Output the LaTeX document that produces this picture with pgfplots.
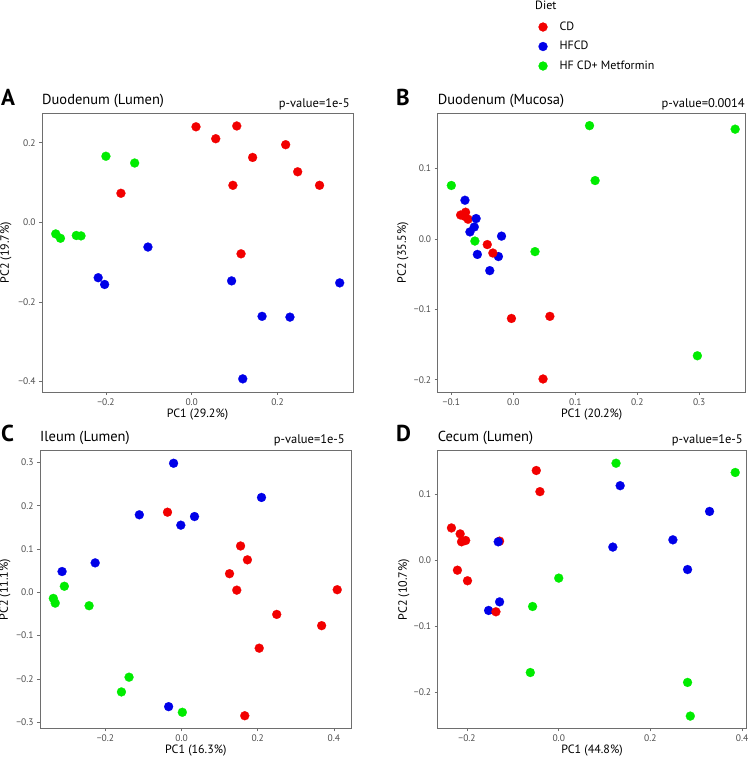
\documentclass[border=0pt]{standalone}
\usepackage{fontspec}
\setmainfont{PT Sans}
\usepackage{pgfplots}
\pgfplotsset{compat=1.18}
\definecolor{cdred}{RGB}{242,0,0}
\definecolor{hfblue}{RGB}{0,0,232}
\definecolor{metgreen}{RGB}{0,236,0}
\definecolor{tickgray}{RGB}{77,77,77}
\definecolor{boxgray}{RGB}{110,110,110}
\pgfplotsset{
  pca/.style={
    scale only axis, anchor=south west,
    tick pos=left, tick align=outside, major tick length=3pt,
    every tick/.style={boxgray, line width=0.6pt},
    axis line style={boxgray, line width=0.7pt},
    ticklabel style={font=\fontsize{9.5}{10}\selectfont, text=tickgray},
  },
  cd/.style={only marks, mark=*, mark size=4.5pt, color=cdred, mark options={fill=cdred, draw=cdred, line width=0.2pt}},
  hf/.style={only marks, mark=*, mark size=4.5pt, color=hfblue, mark options={fill=hfblue, draw=hfblue, line width=0.2pt}},
  mt/.style={only marks, mark=*, mark size=4.5pt, color=metgreen, mark options={fill=metgreen, draw=metgreen, line width=0.2pt}},
}
\begin{document}
\begin{tikzpicture}
\path[use as bounding box] (0pt,0pt) rectangle (750pt,758pt);

% ---------------- A ----------------
\begin{axis}[pca, at={(42pt,366pt)}, width=311pt, height=279pt,
  xmin=-0.349, xmax=0.376, ymin=-0.426, ymax=0.2746,
  xtick={-0.2,0,0.2}, xticklabels={−0.2,0.0,0.2},
  ytick={-0.4,-0.2,0,0.2}, yticklabels={−0.4,−0.2,0.0,0.2},
  legend style={draw=none, fill=none, at={(1.5965,1.3315)}, anchor=north west,
    inner sep=0pt, outer sep=0pt, font=\fontsize{12}{12}\selectfont, row sep=6.5pt,
    nodes={inner sep=1pt, text height=8.5pt, text depth=2.5pt},
    /tikz/every odd column/.style={column sep=11pt}},
  legend cell align=left]
\addplot[cd] coordinates {(0.010,0.240)(0.056,0.210)(0.105,0.242)(0.142,0.163)(0.219,0.195)(0.247,0.127)(0.096,0.093)(0.298,0.093)(-0.165,0.073)(0.115,-0.079)};
\addlegendentry{CD}
\addplot[hf] coordinates {(-0.102,-0.062)(-0.218,-0.139)(-0.203,-0.156)(0.093,-0.147)(0.345,-0.152)(0.164,-0.236)(0.229,-0.238)(0.119,-0.393)};
\addlegendentry{HFCD}
\addplot[mt] coordinates {(-0.200,0.166)(-0.133,0.149)(-0.317,-0.029)(-0.306,-0.040)(-0.269,-0.033)(-0.258,-0.034)};
\addlegendentry{HF CD+ Metformin}
\end{axis}

% ---------------- B ----------------
\begin{axis}[pca, at={(437.7pt,366pt)}, width=308pt, height=279pt,
  xmin=-0.122, xmax=0.375, ymin=-0.2175, ymax=0.179,
  xtick={-0.1,0,0.1,0.2,0.3}, xticklabels={−0.1,0.0,0.1,0.2,0.3},
  ytick={-0.2,-0.1,0,0.1}, yticklabels={−0.2,−0.1,0.0,0.1}]
\addplot[cd] coordinates {(-0.085,0.034)(-0.077,0.038)(-0.078,0.032)(-0.073,0.028)(-0.042,-0.008)(-0.003,-0.113)(0.059,-0.110)(0.048,-0.199)};
\addplot[hf] coordinates {(-0.078,0.055)(-0.060,0.029)(-0.063,0.017)(-0.070,0.010)(-0.019,0.004)(-0.058,-0.022)(-0.024,-0.025)(-0.038,-0.045)};
\addplot[cd] coordinates {(-0.033,-0.020)};
\addplot[mt] coordinates {(0.123,0.161)(0.358,0.156)(0.132,0.083)(-0.100,0.076)(-0.062,-0.003)(0.035,-0.018)(0.297,-0.166)};
\end{axis}

% ---------------- C ----------------
\begin{axis}[pca, at={(40pt,29.7pt)}, width=311.7pt, height=277.6pt,
  xmin=-0.372, xmax=0.447, ymin=-0.314, ymax=0.327,
  xtick={-0.2,0,0.2,0.4}, xticklabels={−0.2,0.0,0.2,0.4},
  ytick={-0.3,-0.2,-0.1,0,0.1,0.2,0.3}, yticklabels={−0.3,−0.2,−0.1,0.0,0.1,0.2,0.3}]
\addplot[hf] coordinates {(-0.021,0.298)(0.210,0.219)(-0.111,0.179)(0.034,0.175)(-0.002,0.155)(-0.227,0.068)(-0.314,0.048)(-0.034,-0.264)};
\addplot[cd] coordinates {(-0.037,0.185)(0.155,0.107)(0.173,0.075)(0.126,0.043)(0.145,0.005)(0.409,0.006)(0.250,-0.051)(0.368,-0.077)(0.204,-0.129)(0.166,-0.285)};
\addplot[mt] coordinates {(-0.308,0.014)(-0.337,-0.014)(-0.332,-0.025)(-0.243,-0.031)(-0.138,-0.196)(-0.158,-0.230)(0.002,-0.277)};
\end{axis}

% ---------------- D ----------------
\begin{axis}[pca, at={(437.7pt,29.7pt)}, width=309pt, height=277.6pt,
  xmin=-0.264, xmax=0.410, ymin=-0.2545, ymax=0.166,
  xtick={-0.2,0,0.2,0.4}, xticklabels={−0.2,0.0,0.2,0.4},
  ytick={-0.2,-0.1,0,0.1}, yticklabels={−0.2,−0.1,0.0,0.1}]
\addplot[cd] coordinates {(-0.049,0.136)(-0.041,0.104)(-0.234,0.049)(-0.215,0.040)(-0.212,0.028)(-0.203,0.030)(-0.129,0.029)(-0.221,-0.015)(-0.199,-0.031)};
\addplot[hf] coordinates {(0.134,0.113)(0.329,0.074)(0.118,0.020)(0.249,0.031)(0.281,-0.014)(-0.132,0.028)(-0.129,-0.063)(-0.153,-0.076)};
\addplot[cd] coordinates {(-0.137,-0.078)};
\addplot[mt] coordinates {(0.125,0.147)(0.385,0.133)(0.000,-0.027)(-0.057,-0.070)(-0.062,-0.170)(0.281,-0.185)(0.287,-0.236)};
\end{axis}

% ---------------- texts ----------------
\node[anchor=base west, inner sep=0pt, font=\fontsize{12}{12}\selectfont] at (535pt,748pt) {Diet};

\node[anchor=base west, inner sep=0pt, font=\bfseries\fontsize{23}{23}\selectfont] at (1pt,652pt) {A};
\node[anchor=base west, inner sep=0pt, font=\fontsize{14.5}{14.5}\selectfont] at (42pt,653pt) {Duodenum (Lumen)};
\node[anchor=base east, inner sep=0pt, font=\fontsize{12.5}{12.5}\selectfont] at (350pt,650pt) {p-value=1e-5};
\node[anchor=center, inner sep=0pt, font=\fontsize{12}{12}\selectfont] at (197.5pt,343pt) {PC1 (29.2\%)};
\node[anchor=center, inner sep=0pt, rotate=90, font=\fontsize{12}{12}\selectfont] at (6pt,505.5pt) {PC2 (19.7\%)};

\node[anchor=base west, inner sep=0pt, font=\bfseries\fontsize{23}{23}\selectfont] at (396pt,652pt) {B};
\node[anchor=base west, inner sep=0pt, font=\fontsize{14.5}{14.5}\selectfont] at (437.7pt,653pt) {Duodenum (Mucosa)};
\node[anchor=base east, inner sep=0pt, font=\fontsize{12.5}{12.5}\selectfont] at (745pt,650pt) {p-value=0.0014};
\node[anchor=center, inner sep=0pt, font=\fontsize{12}{12}\selectfont] at (591.7pt,343pt) {PC1 (20.2\%)};
\node[anchor=center, inner sep=0pt, rotate=90, font=\fontsize{12}{12}\selectfont] at (403pt,505.5pt) {PC2 (35.5\%)};

\node[anchor=base west, inner sep=0pt, font=\bfseries\fontsize{23}{23}\selectfont] at (1pt,316pt) {C};
\node[anchor=base west, inner sep=0pt, font=\fontsize{14.5}{14.5}\selectfont] at (40pt,316pt) {Ileum (Lumen)};
\node[anchor=base east, inner sep=0pt, font=\fontsize{12.5}{12.5}\selectfont] at (345pt,314.7pt) {p-value=1e-5};
\node[anchor=center, inner sep=0pt, font=\fontsize{12}{12}\selectfont] at (195.8pt,7pt) {PC1 (16.3\%)};
\node[anchor=center, inner sep=0pt, rotate=90, font=\fontsize{12}{12}\selectfont] at (5pt,168.5pt) {PC2 (11.1\%)};

\node[anchor=base west, inner sep=0pt, font=\bfseries\fontsize{23}{23}\selectfont] at (396pt,316pt) {D};
\node[anchor=base west, inner sep=0pt, font=\fontsize{14.5}{14.5}\selectfont] at (437.7pt,316pt) {Cecum (Lumen)};
\node[anchor=base east, inner sep=0pt, font=\fontsize{12.5}{12.5}\selectfont] at (743pt,314.7pt) {p-value=1e-5};
\node[anchor=center, inner sep=0pt, font=\fontsize{12}{12}\selectfont] at (592pt,7pt) {PC1 (44.8\%)};
\node[anchor=center, inner sep=0pt, rotate=90, font=\fontsize{12}{12}\selectfont] at (404pt,168.5pt) {PC2 (10.7\%)};
\end{tikzpicture}
\end{document}
